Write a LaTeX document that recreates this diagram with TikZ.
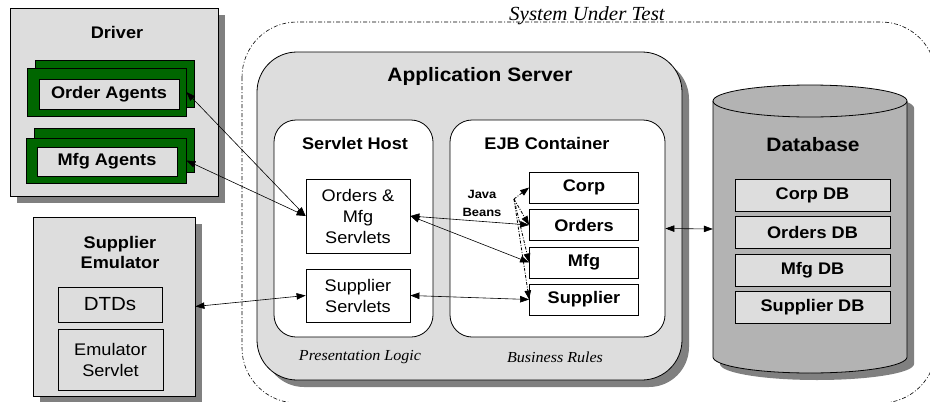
\documentclass[tikz,border=0pt]{standalone}
\usepackage{fontspec}
\setmainfont{Liberation Serif}[FakeStretch=1.05]
\setsansfont{Liberation Sans}[FakeStretch=1.08]
\usetikzlibrary{arrows.meta,shadows}

\definecolor{boxgray}{HTML}{DDDDDD}
\definecolor{shadowgray}{HTML}{808080}
\definecolor{agentgreen}{HTML}{006600}
\definecolor{dbgray}{HTML}{B3B3B3}

\def \shadowOffset {7pt}
\def \dbRadius {16}

\begin{document}
\begin{tikzpicture}[x=1pt,y=-1pt,
    box/.style={draw, line width=0.8pt, inner sep=0pt},
    shadowed/.style={drop shadow={shadow xshift=\shadowOffset, shadow yshift=-\shadowOffset, fill=shadowgray, opacity=1}},
    bigheading/.style={font=\sffamily\bfseries\fontsize{19.4}{23}\selectfont},
    heading/.style={font=\sffamily\bfseries\fontsize{16.8}{20}\selectfont, align=center},
    bodytext/.style={font=\sffamily\fontsize{16.8}{21}\selectfont, align=center},
    italicnote/.style={font=\itshape\fontsize{15.3}{18}\selectfont},
    link/.style={{Triangle[length=9pt,width=6.5pt]}-{Triangle[length=9pt,width=6.5pt]}, line width=0.6pt},
    beanlink/.style={-{Triangle[length=9pt,width=6.5pt]}, line width=0.8pt, dash pattern=on 3pt off 1.5pt on 1pt off 1.5pt}]

\useasboundingbox (0,0) rectangle (930,402);

\begin{scope}
  \clip (0,0) rectangle (930,402);
  \draw[line width=0.6pt, dash pattern=on 4pt off 2pt on 1pt off 2pt, rounded corners=55pt] (242,22) rectangle (936,403);
\end{scope}
\node[font=\itshape\fontsize{20}{24}\selectfont, anchor=base] (sut) at (587,20) {System Under Test};

\node[box, fill=boxgray, shadowed, minimum width=208pt, minimum height=188pt] (driver) at (114,102) {};
\node[heading] (drivertitle) at (117,32) {Driver};
\node[box, fill=agentgreen, minimum width=159pt, minimum height=47pt] (ordback) at (115,84) {};
\node[box, fill=agentgreen, minimum width=159pt, minimum height=48pt] (ordfront) at (106.5,92) {};
\node[box, fill=boxgray, heading, minimum width=140pt, minimum height=30pt] (ordagents) at (109,94) {Order Agents};
\node[box, fill=agentgreen, minimum width=160pt, minimum height=44pt] (mfgback) at (114.5,150) {};
\node[box, fill=agentgreen, minimum width=160pt, minimum height=45pt] (mfgfront) at (106,160.5) {};
\node[box, fill=boxgray, heading, minimum width=140pt, minimum height=29pt] (mfgagents) at (107,161.5) {Mfg Agents};

\node[box, fill=boxgray, shadowed, minimum width=162pt, minimum height=179pt] (emulator) at (114,306.5) {};
\node[heading] (emutitle) at (120,252) {Supplier\\Emulator};
\node[box, fill=boxgray, bodytext, font=\sffamily\fontsize{19}{22}\selectfont, minimum width=104pt, minimum height=35pt] (dtds) at (110,304.5) {DTDs};
\node[box, fill=boxgray, bodytext, minimum width=105pt, minimum height=61pt] (emuservlet) at (110.5,359.5) {Emulator\\Servlet};

\node[box, fill=boxgray, shadowed, rounded corners=40pt, minimum width=425pt, minimum height=328pt] (appserver) at (469.5,216) {};
\node[bigheading] (apptitle) at (480,76) {Application Server};
\node[box, fill=white, rounded corners=22pt, minimum width=159pt, minimum height=217pt] (servlethost) at (353.5,228.5) {};
\node[heading] (hosttitle) at (355,143) {Servlet Host};
\node[box, fill=white, rounded corners=22pt, minimum width=215pt, minimum height=217pt] (ejb) at (557.5,228.5) {};
\node[heading] (ejbtitle) at (547,143) {EJB Container};
\node[box, fill=white, bodytext, minimum width=104pt, minimum height=74pt] (omserv) at (358,216) {Orders \&\\Mfg\\Servlets};
\node[box, fill=white, bodytext, minimum width=104pt, minimum height=53pt] (supserv) at (358,295.5) {Supplier\\Servlets};

\node[box, fill=white, heading, minimum width=109pt, minimum height=31pt] (corp) at (584,187.5) {Corp};
\node[box, fill=white, heading, minimum width=109pt, minimum height=31pt] (orders) at (584,225) {Orders};
\node[box, fill=white, heading, minimum width=109pt, minimum height=31pt] (mfg) at (584,262.5) {Mfg};
\node[box, fill=white, heading, minimum width=109pt, minimum height=31pt] (supplier) at (584,299.5) {Supplier};
\node[font=\sffamily\bfseries\fontsize{12}{18}\selectfont, align=center] (javabeans) at (482,203) {Java\\Beans};

\node[italicnote] (presentation) at (360,357) {Presentation Logic};
\node[italicnote] (business) at (555,357) {Business Rules};

\node[inner sep=0pt, minimum width=194pt, minimum height=288pt] (db) at (810,229) {};
\path[draw, line width=0.8pt, fill=dbgray, shadowed] (713,101) -- (713,357)
  arc[start angle=180, end angle=0, x radius=97, y radius=\dbRadius] -- (907,101)
  arc[start angle=0, end angle=-180, x radius=97, y radius=\dbRadius] -- cycle;
\draw[line width=0.8pt] (713,101) arc[start angle=180, end angle=0, x radius=97, y radius=\dbRadius];
\node[bigheading] (dbtitle) at (813,145) {Database};
\node[box, fill=boxgray, heading, minimum width=155pt, minimum height=32pt] (corpdb) at (812.5,195) {Corp DB};
\node[box, fill=boxgray, heading, minimum width=155pt, minimum height=32pt] (ordersdb) at (812.5,232.5) {Orders DB};
\node[box, fill=boxgray, heading, minimum width=155pt, minimum height=32pt] (mfgdb) at (812.5,270) {Mfg DB};
\node[box, fill=boxgray, heading, minimum width=155pt, minimum height=32pt] (supplierdb) at (812.5,307.5) {Supplier DB};

\draw[link] (ordfront.east) -- (omserv.west);
\draw[link] (mfgfront.east) -- (omserv.west);
\draw[link] (emulator.east) -- (supserv.west);
\draw[link] (omserv.east) -- (orders.west);
\draw[link] (omserv.east) -- (mfg.west);
\draw[link] (supserv.east) -- (supplier.west);
\draw[link] (ejb.east) -- (db.west);

\coordinate (hub) at (514,199);
\draw[beanlink] (hub) -- (corp.west);
\draw[beanlink] (hub) -- (orders.west);
\draw[beanlink] (hub) -- (mfg.west);
\draw[beanlink] (hub) -- (supplier.west);
\end{tikzpicture}
\end{document}
